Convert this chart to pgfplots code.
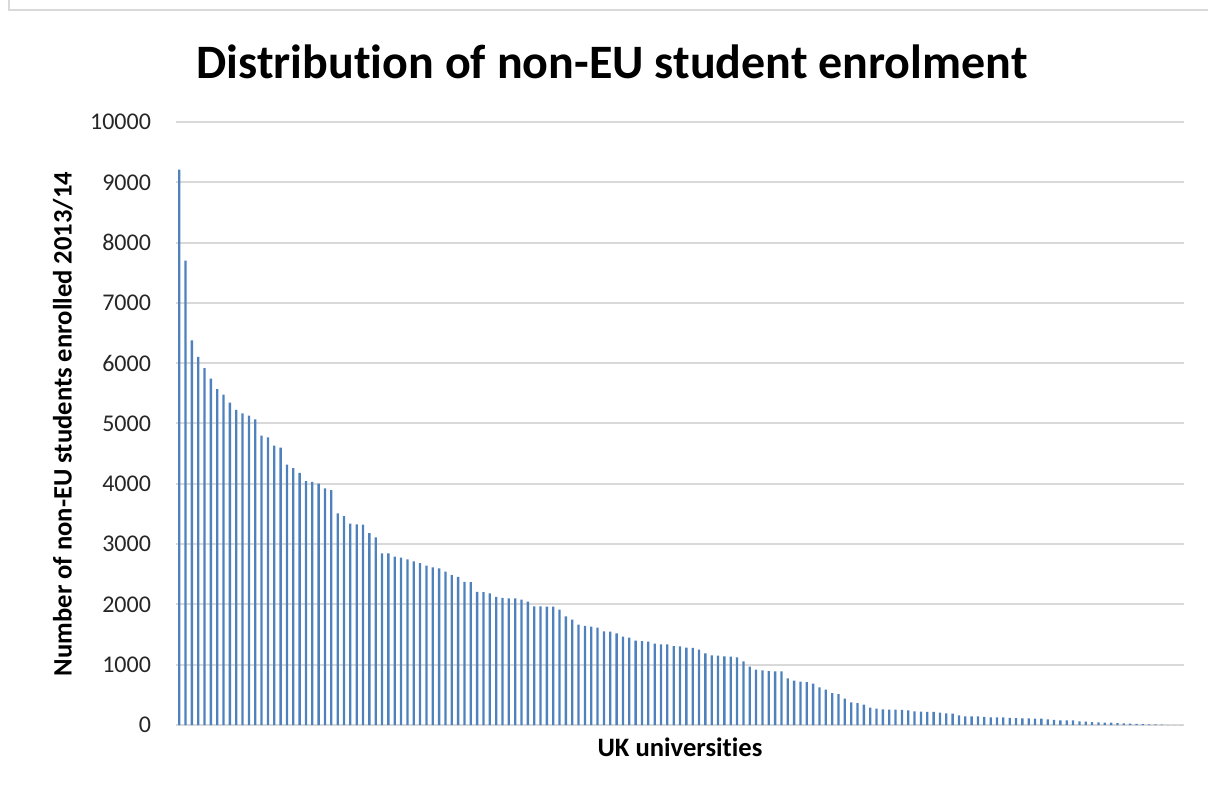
\documentclass[border=0pt]{standalone}
\usepackage{pgfplots}
\pgfplotsset{compat=1.18}
\usepackage{pgfplotstable}
\usepackage{fontspec}
\setmainfont{Carlito}[Ligatures=NoCommon]
\definecolor{barblue}{HTML}{4F81BD}
\definecolor{gridgray}{HTML}{D9D9D9}
\definecolor{ticktext}{HTML}{262626}
\pgfplotstableread{
x y
1 9210
2 7703
3 6377
4 6106
5 5919
6 5744
7 5570
8 5479
9 5347
10 5226
11 5166
12 5130
13 5069
14 4798
15 4768
16 4635
17 4599
18 4316
19 4262
20 4183
21 4045
22 4033
23 4002
24 3924
25 3894
26 3508
27 3463
28 3339
29 3328
30 3322
31 3184
32 3112
33 2846
34 2846
35 2791
36 2774
37 2746
38 2713
39 2686
40 2641
41 2614
42 2597
43 2542
44 2486
45 2458
46 2375
47 2370
48 2209
49 2204
50 2182
51 2126
52 2110
53 2099
54 2098
55 2078
56 2047
57 1969
58 1969
59 1963
60 1963
61 1913
62 1803
63 1747
64 1664
65 1642
66 1631
67 1614
68 1553
69 1547
70 1520
71 1464
72 1448
73 1398
74 1392
75 1381
76 1348
77 1337
78 1337
79 1309
80 1303
81 1284
82 1279
83 1249
84 1188
85 1155
86 1149
87 1138
88 1133
89 1122
90 1055
91 967
92 917
93 906
94 895
95 890
96 890
97 773
98 735
99 718
100 713
101 685
102 624
103 586
104 530
105 514
106 436
107 376
108 363
109 340
110 289
111 272
112 261
113 256
114 256
115 250
116 244
117 228
118 222
119 217
120 217
121 206
122 194
123 189
124 161
125 144
126 144
127 144
128 133
129 128
130 128
131 128
132 120
133 114
134 110
135 110
136 105
137 105
138 94
139 83
140 77
141 77
142 77
143 61
144 55
145 48
146 44
147 40
148 38
149 30
150 28
151 22
152 17
153 14
154 12
155 9
156 6
157 0
158 0
159 0
}\enrol
\begin{document}
\begin{tikzpicture}[x=0.5pt,y=0.5pt]
\path[use as bounding box] (0,0) rectangle (1208,787);
\draw[gridgray, line width=1pt] (9,787) -- (9,777) -- (1208,777);
\begin{axis}[
  at={(88pt,31pt)}, anchor=south west,
  scale only axis,
  width=504pt, height=301.5pt,
  xmin=0.5, xmax=159.5,
  ymin=0, ymax=10000,
  ytick={0,1000,...,10000},
  xtick=\empty,
  axis line style={draw=none},
  major tick length=0pt,
  ymajorgrids,
  grid style={gridgray, line width=1pt},
  yticklabel style={font=\fontsize{12}{14}\selectfont, text=ticktext, xshift=-9pt},
  /pgf/number format/assume math mode=true,
  /pgf/number format/1000 sep={},
  scaled y ticks=false,
  clip=false,
]
\addplot[ybar, bar width=1.15pt, fill=barblue, draw=none] table[x=x,y=y] {\enrol};
\end{axis}
\node[font=\fontsize{24}{28}\selectfont\bfseries] at (612,725) {Distribution of non-EU student enrolment};
\node[font=\fontsize{13.3}{15}\selectfont\bfseries] at (680,40) {UK universities};
\node[font=\fontsize{13.3}{15}\selectfont\bfseries, rotate=90] at (63,363) {Number of non-EU students enrolled 2013/14};
\end{tikzpicture}
\end{document}
